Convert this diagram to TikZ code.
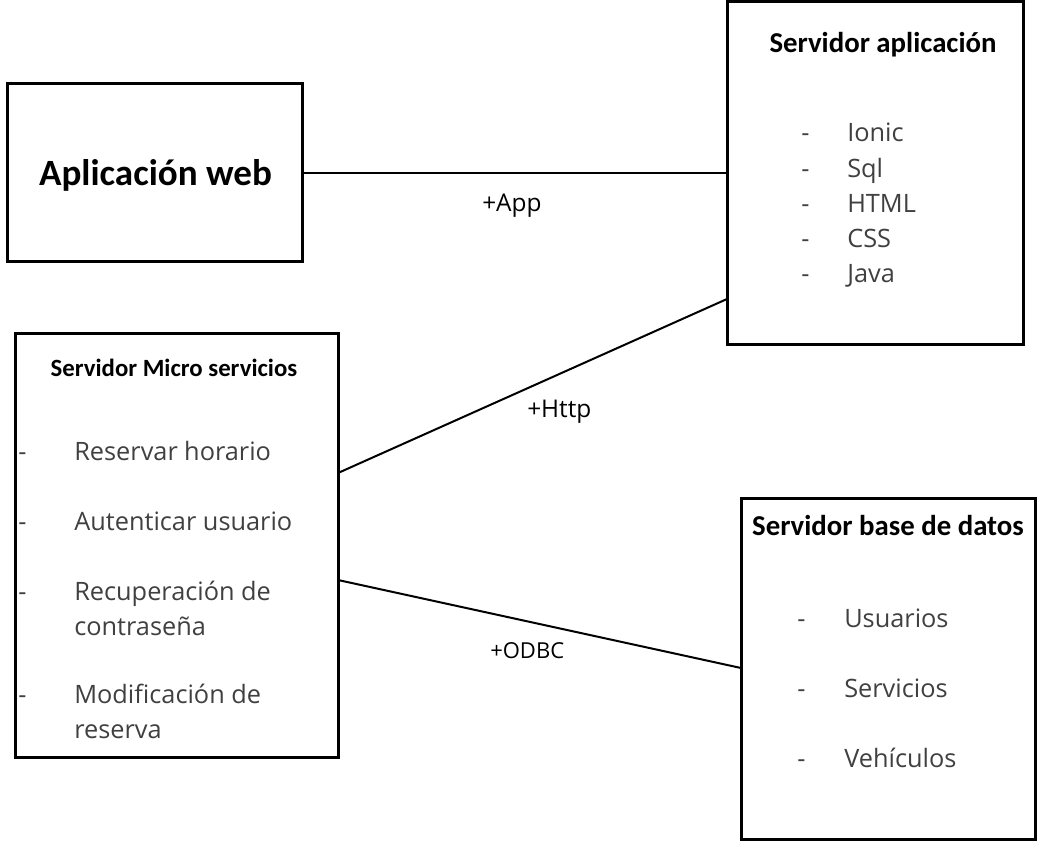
\documentclass[tikz,border=0pt]{standalone}
\usepackage{fontspec}
\setmainfont{Open Sans}
\newfontfamily\titlefont{Carlito}
\usetikzlibrary{calc}
\definecolor{itemgray}{HTML}{404040}
\begin{document}
\begin{tikzpicture}[x=0.75pt,y=-0.75pt,
  box/.style={draw, line width=2.25pt, inner sep=0pt, outer sep=0pt},
  bigtitle/.style={font=\titlefont\bfseries\fontsize{27.8}{32}\selectfont, anchor=base, inner sep=0pt},
  title/.style={font=\titlefont\bfseries\fontsize{21.6}{26}\selectfont, anchor=base, inner sep=0pt},
  smalltitle/.style={font=\titlefont\bfseries\fontsize{18.6}{22}\selectfont, anchor=base, inner sep=0pt},
  item/.style={text=itemgray, font=\fontsize{19}{23}\selectfont, anchor=base west, inner sep=0pt},
  lbl/.style={font=\fontsize{18.3}{22}\selectfont, anchor=base west, inner sep=0pt},
  conn/.style={line width=1.5pt}]
\useasboundingbox (0,0) rectangle (1050,842);

% boxes
\node[box, minimum width=221.25pt, minimum height=132.75pt] (web) at (154.5,172.5) {};
\node[box, minimum width=222pt, minimum height=256.5pt] (app) at (875,173) {};
\node[box, minimum width=242.25pt, minimum height=318pt] (micro) at (176.5,545) {};
\node[box, minimum width=220.5pt, minimum height=255.75pt] (db) at (888,668.5) {};

% titles
\node[bigtitle] (tweb) at (155.5,185) {Aplicación web};
\node[title] (tapp) at (883,53) {Servidor aplicación};
\node[smalltitle] (tmicro) at (174,376) {Servidor Micro servicios};
\node[title] (tdb) at (888,535) {Servidor base de datos};

% app list
\foreach \t [count=\i] in {Ionic,Sql,HTML,CSS,Java}{
  \node[item] (ad\i) at (801,{142+35*(\i-1)}) {-};
  \node[item] (ai\i) at (847,{142+35*(\i-1)}) {\t};
}

% micro list
\node[item] (md1) at (18,460) {-};
\node[item] (mi1) at (74,460) {Reservar\hspace{0.25em}horario};
\node[item] (md2) at (18,530) {-};
\node[item] (mi2) at (74,530) {Autenticar usuario};
\node[item] (md3) at (18,600) {-};
\node[item] (mi3) at (74,600) {Recuperación\hspace{0.25em}de};
\node[item] (mi3b) at (74,635) {contraseña};
\node[item] (md4) at (18,703) {-};
\node[item] (mi4) at (74,703) {Modificación de};
\node[item] (mi4b) at (74,738) {reserva};

% db list
\foreach \t [count=\i] in {Usuarios,Servicios,Vehículos}{
  \node[item] (dd\i) at (797,{627+70*(\i-1)}) {-};
  \node[item] (di\i) at (844,{627+70*(\i-1)}) {\t};
}

% connectors
\coordinate (mH) at ($(micro.north east)+(0,140)$);
\coordinate (aH) at ($(app.north west)+(0,297)$);
\coordinate (mO) at ($(micro.north east)+(0,247)$);
\coordinate (dO) at ($(db.north west)+(0,170)$);
\draw[conn] (web.east) -- (app.west |- web.east);
\draw[conn] (mH) -- (aH);
\draw[conn] (mO) -- (dO);

% labels
\node[lbl] (lapp) at (482,211) {+App};
\node[lbl] (lhttp) at (527,417) {+Http};
\node[lbl, font=\fontsize{16.5}{20}\selectfont] (lodbc) at (490,658) {+ODBC};
\end{tikzpicture}
\end{document}
